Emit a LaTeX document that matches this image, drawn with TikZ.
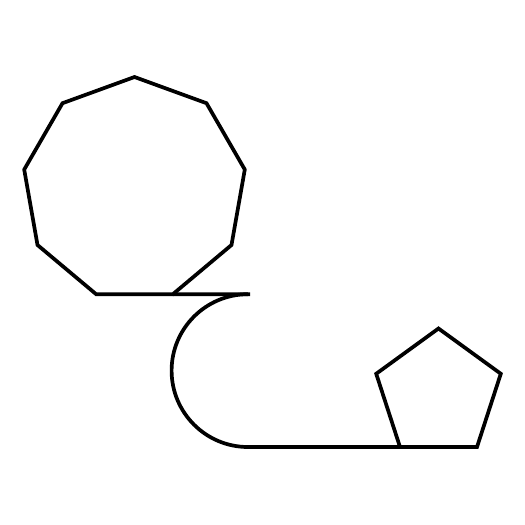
\documentclass[tikz,border=0pt]{standalone}
\begin{document}
\begin{tikzpicture}[x=1pt,y=-1pt,shapeline/.style={line width=3.7pt,line join=miter,black}]
\useasboundingbox (0,0) rectangle (525,525);
% nonagon vertices
\foreach \k in {0,...,8}{
  \coordinate (n\k) at ([shift={(134.5,189)}]{-90+40*\k}:112);
}
% pentagon vertices
\foreach \k in {0,...,4}{
  \coordinate (p\k) at ([shift={(438.5,394)}]{-90+72*\k}:65.5);
}
\draw[shapeline] (n0) -- (n1) -- (n2) -- (n3) -- (n4) -- (n5) -- (n6) -- (n7) -- (n8) -- cycle;
\draw[shapeline] (p0) -- (p1) -- (p2) -- (p3) -- (p4) -- cycle;
\coordinate (a) at (250,294.2);
\draw[shapeline] (n4) -- (a);
\draw[shapeline] (a) ++(-2,0) arc[start angle=-90,end angle=-270,radius=76.4] -- (p3);
\end{tikzpicture}
\end{document}
